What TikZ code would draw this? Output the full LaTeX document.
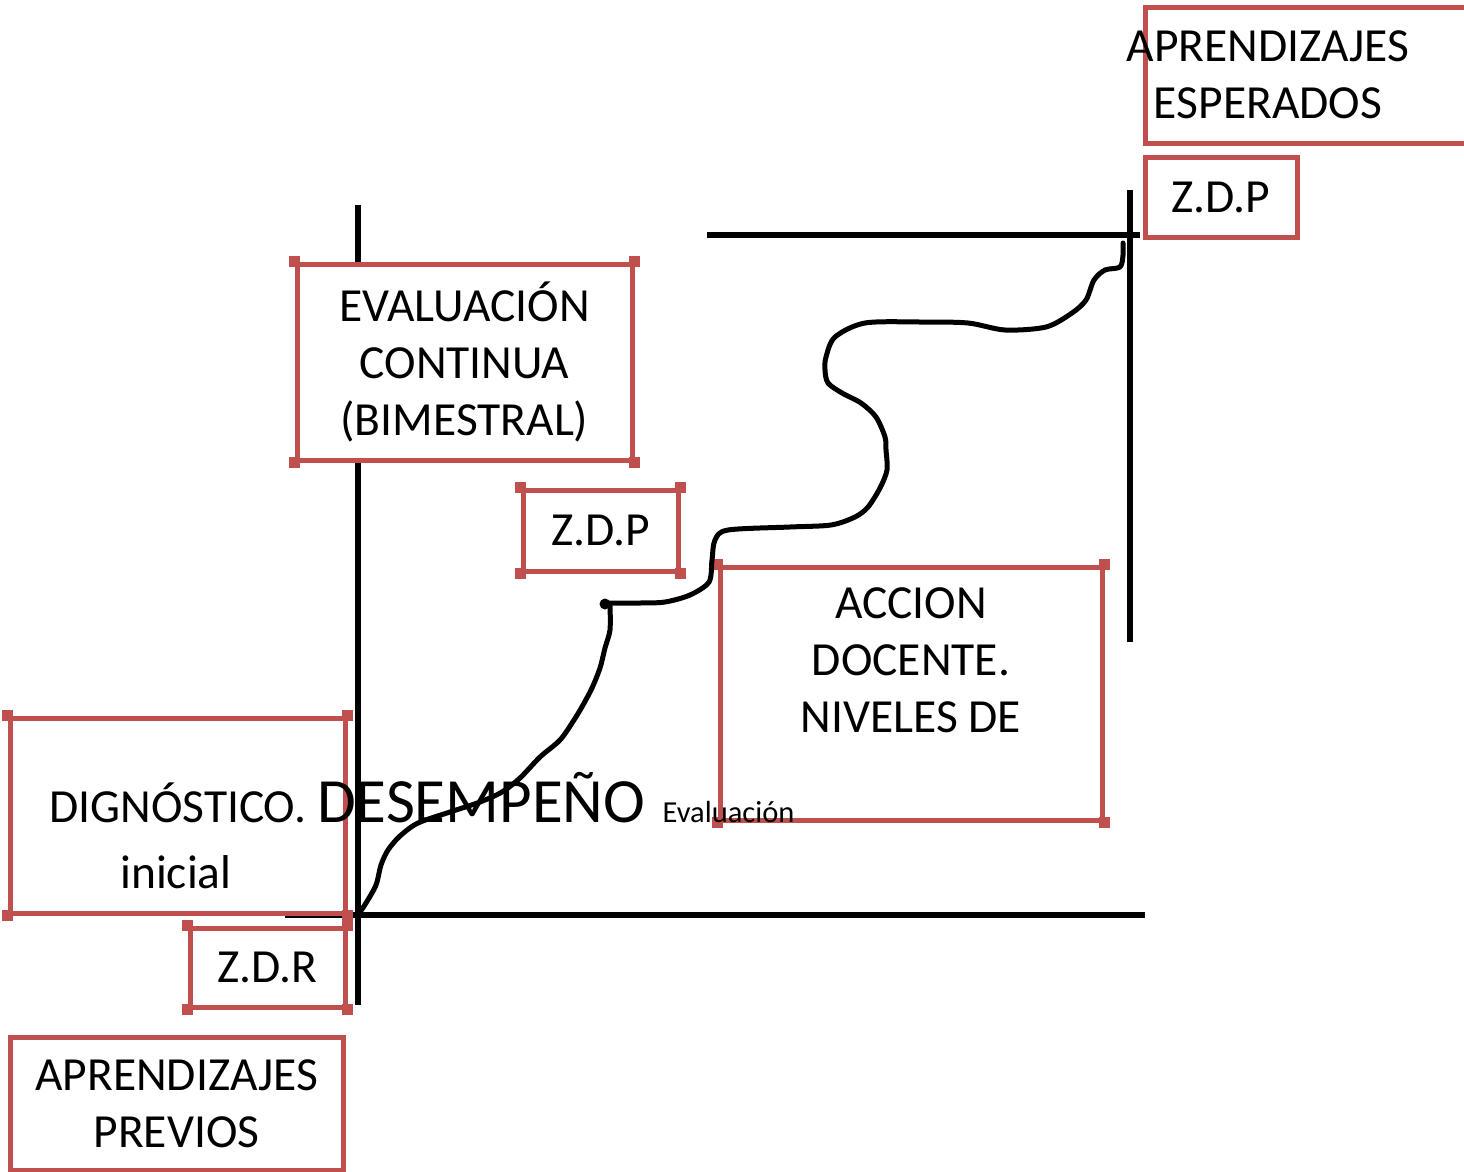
\documentclass[tikz,border=0pt]{standalone}
\usepackage{fontspec}
\setmainfont{Carlito}
\definecolor{boxred}{RGB}{192,80,77}
\tikzset{
  zbox/.style={draw=boxred, line width=5pt, fill=white, inner sep=0pt, align=center},
  axis/.style={line width=5.5pt},
  word/.style={inner sep=0pt, anchor=base west},
}
\begin{document}
\begin{tikzpicture}[x=1pt,y=-1pt,font=\fontsize{47.5}{57}\selectfont]
      \useasboundingbox (0,0) rectangle (1464,1172);
      \coordinate (O) at (358,915);
      \draw[axis](358,205)--(358,1005);
      \draw[axis](285,915)--(1145,915);
      \draw[axis](707,235)--(1140,235);
      \draw[axis](1130,190)--(1130,642);
      \foreach \n/\x/\y/\w/\h/\t in{esp/1310/75.5/330/135/{}, zdpA/1221/197/152/80/Z.D.P,
          eval/464.5/362/335/196/{EVALUACIÓN\\CONTINUA\\(BIMESTRAL)}, zdpB/600.5/530.5/155/81/Z.D.P,
          accion/911/693.5/382/253/{}, diag/177.5/815.5/335/195/{},
          zdr/267.5/967.5/155/79/Z.D.R, prev/176.5/1103.5/333/133/{APRENDIZAJES\\PREVIOS}}{
        \node[zbox, minimum width=\w, minimum height=\h](\n) at(\x,\y) {\t};
      }
      \foreach \n in{eval, zdpB, accion, diag, zdr}{
        \foreach \c in{north west, north east, south west, south east}{
          \fill[boxred](\n.\c) ++(-5.5,-5.5) rectangle ++(11,11);
        }
      }
      \node[align=center](espTxt) at(1268,75) {APRENDIZAJES\\ESPERADOS};
      \node[align=center](accionTxt) at(911,660) {ACCION\\DOCENTE.\\NIVELES DE};
      \node[word](diagTxt) at(49,822) {DIGNÓSTICO.};
      \node[word, font=\fontsize{63}{70}\selectfont](desTxt) at([xshift=10]diagTxt.base east) {DESEMPEÑO};
      \node[word, font=\fontsize{30.5}{36}\selectfont](evalTxt) at([xshift=17]desTxt.base east) {Evaluación};
      \node[inner sep=0pt, anchor=base](iniTxt) at(176,888) {inicial};
      \draw[line width=5pt, line join=round, line cap=round] plot[smooth, tension=0.5] coordinates{
        (O) (366,903) (376,885) (381,865) (388,850) (400,836) (418,823) (450,812) (480,802)
        (502,792) (520,778) (540,757) (560,740) (574,720) (583,705) (592,688) (600,668)
        (605,648) (610,630) (610,606)};
      \fill(605,604) circle(5.5);
      \draw[line width=5pt, line join=round, line cap=round] plot[smooth, tension=0.5] coordinates{
        (606,603) (640,603) (665,602) (690,595) (709,582) (712,560) (715,540) (728,530)
        (790,527) (831,525) (855,517) (868,507) (880,488) (887,470) (886,450) (885,437)
        (876,417) (861,403) (842,393) (828,383) (825,370) (826,357) (835,337) (865,323)
        (920,322) (968,323) (1005,330) (1046,327) (1072,313) (1086,300) (1094,280)
        (1105,270) (1120,267) (1123,255) (1123,243)};
    \end{tikzpicture}
\end{document}
